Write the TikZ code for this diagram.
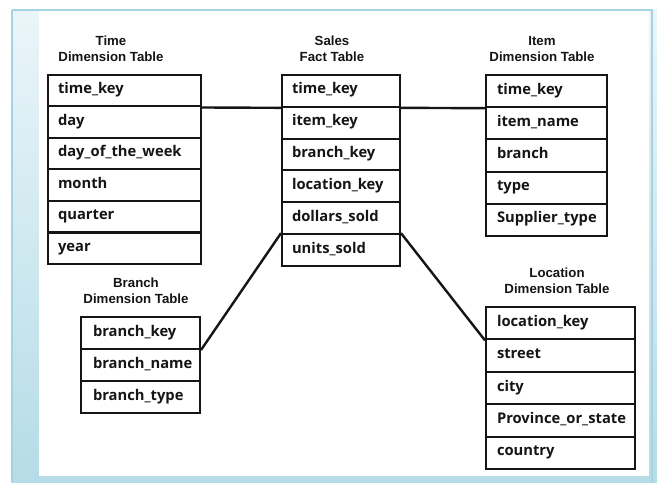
\documentclass[tikz,border=0pt]{standalone}
\usepackage{fontspec}
\setmainfont{Liberation Sans}
\newfontfamily\rowfont{Open Sans}
\usetikzlibrary{positioning}
\definecolor{framefill}{HTML}{B5DCE7}
\definecolor{frameline}{HTML}{A6D3E1}
\definecolor{framelight}{HTML}{EAF5F9}
\definecolor{inkc}{HTML}{151515}
\begin{document}
\begin{tikzpicture}[x=1bp,y=-1bp,
  rowbox/.style={draw=inkc, line width=2bp, rectangle, anchor=north west,
    inner xsep=10bp, inner ysep=0pt, font=\rowfont\bfseries\fontsize{14.8}{17}\selectfont,
    text=inkc, align=left, text height=10bp, text depth=4bp},
  titlebox/.style={anchor=south, inner sep=0pt, align=center, text=inkc,
    font=\bfseries\fontsize{13.3}{16}\selectfont},
  conn/.style={draw=inkc, line width=2.4bp}]
\useasboundingbox (0,0) rectangle (657,483);
\fill[white] (0,0) rectangle (657,483);
% frame
\shade[top color=framelight, bottom color=framefill] (12,10) rectangle (657,483);
\fill[white] (39,11) rectangle (649,476);
\draw[frameline, line width=1.2bp] (12,10) -- (652,10) -- (652,483);
\draw[frameline, line width=1.2bp] (12,10) -- (12,483);
% Time table
\node[titlebox] (ttime) at (111,62) {Time\\Dimension Table};
\foreach \t [count=\i] in {time\_key, day, day\_of\_the\_week, month, quarter, year}
  \node[rowbox, minimum width=153bp, minimum height=31.5bp, text width=133bp] (time\i) at (47,{74+(\i-1)*31.5}) {\t};
% Sales table
\node[titlebox] (tsales) at (332,62) {Sales\\Fact Table};
\foreach \t [count=\i] in {time\_key, item\_key, branch\_key, location\_key, dollars\_sold, units\_sold}
  \node[rowbox, minimum width=118bp, minimum height=31.83bp, text width=98bp] (sales\i) at (281,{74+(\i-1)*31.83}) {\t};
% Item table
\node[titlebox] (titem) at (542,62) {Item\\Dimension Table};
\foreach \t [count=\i] in {time\_key, item\_name, branch, type, Supplier\_type}
  \node[rowbox, inner xsep=11bp, minimum width=121bp, minimum height=32.2bp, text width=99bp] (item\i) at (485,{74+(\i-1)*32.2}) {\t};
% Branch table
\node[titlebox] (tbranch) at (136,304) {Branch\\Dimension Table};
\foreach \t [count=\i] in {branch\_key, branch\_name, branch\_type}
  \node[rowbox, inner xsep=12bp, minimum width=119bp, minimum height=32bp, text width=95bp] (branch\i) at (80,{316+(\i-1)*32}) {\t};
% Location table
\node[titlebox] (tloc) at (557,294) {Location\\Dimension Table};
\foreach \t [count=\i] in {location\_key, street, city, Province\_or\_state, country}
  \node[rowbox, inner xsep=11bp, minimum width=149bp, minimum height=32.4bp, text width=127bp] (loc\i) at (485,{306+(\i-1)*32.4}) {\t};
% connectors
\draw[conn] (time1.south east) -- (sales1.south west);
\draw[conn] (sales1.south east) -- (item1.south west);
\draw[conn] (sales6.north west) -- (branch1.south east);
\draw[conn] (sales6.north east) -- (loc1.south west);
\end{tikzpicture}
\end{document}
